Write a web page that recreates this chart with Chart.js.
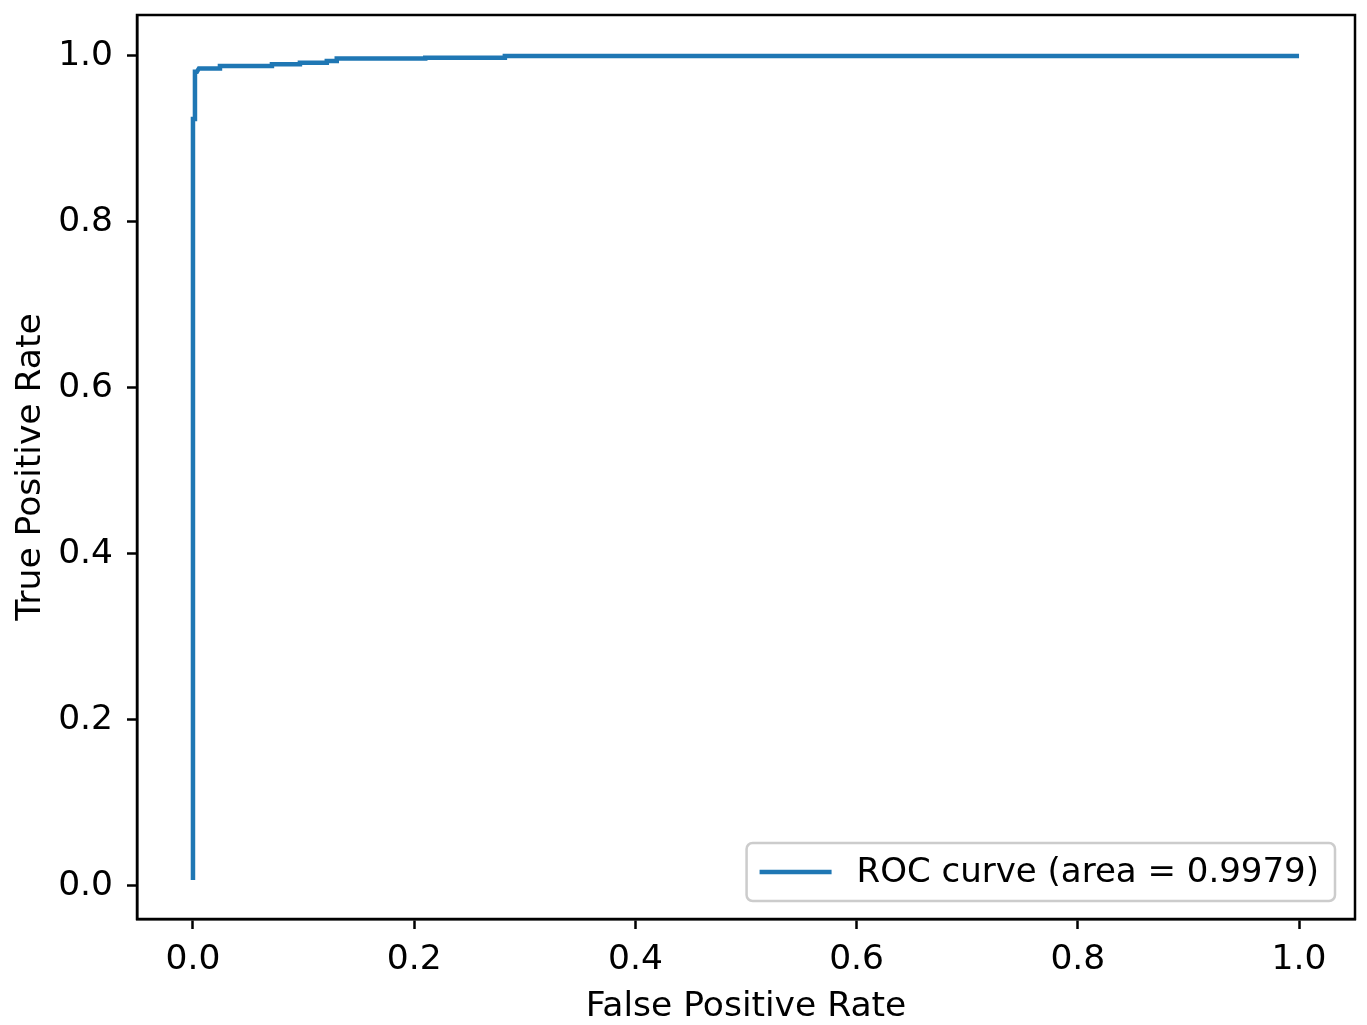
<!DOCTYPE html>
<html>
<head>
<meta charset="utf-8">
<script src="https://cdn.jsdelivr.net/npm/chart.js@4.4.1/dist/chart.umd.min.js"></script>
<style>
  html, body { margin: 0; padding: 0; background: #fff; }
  #wrap { width: 1367px; height: 1025px; }
</style>
</head>
<body>
<div id="wrap"><canvas id="roc"></canvas></div>
<script>
// ROC curve points (step corners)
const fpr = [0, 0, 0.0018, 0.0018, 0.0036, 0.0054, 0.0244, 0.0244, 0.0714, 0.0714,
  0.0967, 0.0967, 0.121, 0.121, 0.130, 0.130, 0.210, 0.210, 0.282, 0.282, 1.0];
const tpr = [0.007, 0.924, 0.924, 0.981, 0.981, 0.985, 0.985, 0.988, 0.988, 0.990,
  0.990, 0.992, 0.992, 0.994, 0.994, 0.997, 0.997, 0.998, 0.998, 1.0, 1.0];
const xTicks = [0.0, 0.2, 0.4, 0.6, 0.8, 1.0];
const yTicks = [0.0, 0.2, 0.4, 0.6, 0.8, 1.0];
const seriesLabel = 'ROC curve (area = 0.9979)';

const FONT = 'DejaVu Sans';
const SIZE = 34.5;
const blue = '#1f77b4';

const points = fpr.map((x, i) => ({ x: x, y: tpr[i] }));

// spines on all four sides, like matplotlib
const frame = {
  id: 'frame',
  afterDatasetsDraw(chart) {
    const { ctx, chartArea: a } = chart;
    ctx.save();
    ctx.strokeStyle = '#000';
    ctx.lineWidth = 2.5;
    ctx.strokeRect(a.left, a.top, a.right - a.left, a.bottom - a.top);
    ctx.restore();
  }
};

// legend box in the lower right of the plot
const innerLegend = {
  id: 'innerLegend',
  afterDraw(chart) {
    const { ctx, chartArea: a } = chart;
    const text = chart.data.datasets[0].label;
    ctx.save();
    ctx.font = '34px "' + FONT + '"';
    const tw = ctx.measureText(text).width;
    const h = 58;
    const w = tw + 126;
    const x = a.right - 20 - w;
    const y = a.bottom - 18 - h;
    ctx.fillStyle = 'rgba(255,255,255,0.8)';
    ctx.strokeStyle = '#cccccc';
    ctx.lineWidth = 2.5;
    ctx.beginPath();
    ctx.roundRect(x, y, w, h, 6);
    ctx.fill();
    ctx.stroke();
    ctx.strokeStyle = blue;
    ctx.lineWidth = 4.5;
    ctx.beginPath();
    ctx.moveTo(x + 13, y + h / 2);
    ctx.lineTo(x + 85, y + h / 2);
    ctx.stroke();
    ctx.fillStyle = '#000';
    ctx.textBaseline = 'middle';
    ctx.fillText(text, x + 110, y + h / 2 + 1);
    ctx.restore();
  }
};

function fixedTicks(list) {
  return function (scale) {
    scale.ticks = list.map(v => ({ value: v }));
  };
}

new Chart(document.getElementById('roc'), {
  type: 'scatter',
  data: {
    datasets: [{
      label: seriesLabel,
      data: points,
      showLine: true,
      borderColor: blue,
      backgroundColor: blue,
      borderWidth: 4.5,
      pointRadius: 0,
      tension: 0
    }]
  },
  options: {
    responsive: true,
    maintainAspectRatio: false,
    animation: false,
    layout: { padding: { top: 15, right: 12, bottom: 0, left: 0 } },
    plugins: {
      legend: { display: false },
      tooltip: { enabled: false }
    },
    scales: {
      x: {
        type: 'linear',
        min: -0.0506,
        max: 1.0506,
        afterBuildTicks: fixedTicks(xTicks),
        afterFit(scale) {
          scale.height = 106;
          scale.paddingLeft = 0;
          scale.paddingRight = 0;
        },
        grid: { drawOnChartArea: false, drawTicks: true, tickLength: 10, tickWidth: 2.5, tickColor: '#000' },
        border: { display: true, color: '#000', width: 2.5 },
        ticks: {
          color: '#000',
          padding: 10,
          font: { family: FONT, size: SIZE },
          callback: v => Number(v).toFixed(1)
        },
        title: {
          display: true,
          text: 'False Positive Rate',
          color: '#000',
          font: { family: FONT, size: SIZE },
          padding: { top: 0, bottom: -3 }
        }
      },
      y: {
        type: 'linear',
        min: -0.040,
        max: 1.0494,
        afterBuildTicks: fixedTicks(yTicks),
        afterFit(scale) {
          scale.width = 137;
          scale.paddingTop = 0;
          scale.paddingBottom = 0;
        },
        grid: { drawOnChartArea: false, drawTicks: true, tickLength: 10, tickWidth: 2.5, tickColor: '#000' },
        border: { display: true, color: '#000', width: 2.5 },
        ticks: {
          color: '#000',
          padding: 14,
          font: { family: FONT, size: SIZE },
          callback: v => Number(v).toFixed(1)
        },
        title: {
          display: true,
          text: 'True Positive Rate',
          color: '#000',
          font: { family: FONT, size: SIZE },
          padding: { top: 10, bottom: 0 }
        }
      }
    }
  },
  plugins: [frame, innerLegend]
});
</script>
</body>
</html>
